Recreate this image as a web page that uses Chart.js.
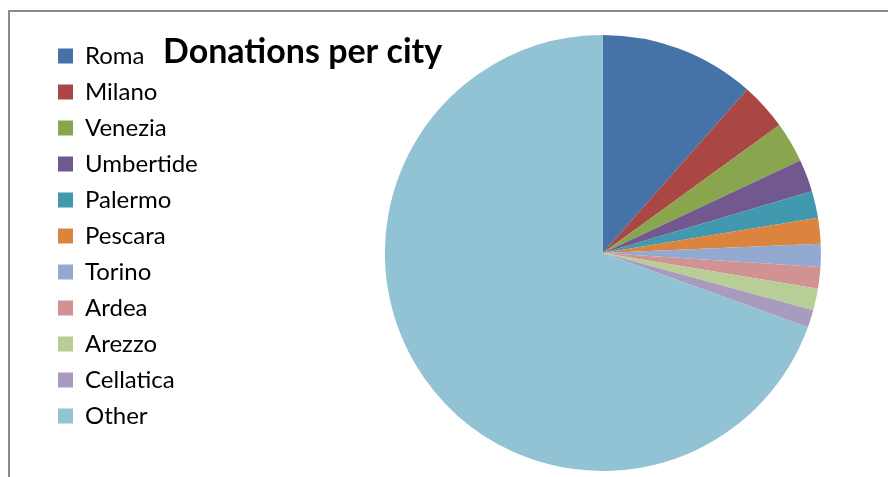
<!DOCTYPE html>
<html>
<head>
<meta charset="utf-8">
<script src="https://cdn.jsdelivr.net/npm/chart.js@4"></script>
<style>
  html, body { margin: 0; padding: 0; background: #fff; }
  #wrap { position: relative; width: 888px; height: 477px; }
  #frame { position: absolute; left: 8px; top: 10px; right: -5px; bottom: -5px;
           border-left: 2px solid #8a8a8a; border-top: 2px solid #8a8a8a; pointer-events: none; }
  canvas { position: absolute; left: 0; top: 0; }
</style>
</head>
<body>
<div id="wrap">
  <canvas id="pieChart" width="888" height="477"></canvas>
  <div id="frame"></div>
</div>
<script>
const cities = ['Roma', 'Milano', 'Venezia', 'Umbertide', 'Palermo', 'Pescara',
                'Torino', 'Ardea', 'Arezzo', 'Cellatica', 'Other'];
const donations = [115, 35, 30, 24, 20, 19, 17, 16, 16, 13, 694];
const sliceColors = ['#4572A7', '#AA4643', '#89A54E', '#71588F', '#4198AF', '#DB843D',
                     '#93A9CF', '#D19392', '#B9CD96', '#A99BBD', '#92C3D4'];
const chartTitle = 'Donations per city';

// title sits beside the legend, so draw it ourselves instead of using the title box
const titlePlugin = {
  id: 'sideTitle',
  afterDraw(chart) {
    const ctx = chart.ctx;
    ctx.save();
    ctx.font = 'bold 34px Lato';
    ctx.fillStyle = '#000';
    ctx.textBaseline = 'alphabetic';
    ctx.fillText(chartTitle, 163, 63);
    ctx.restore();
  }
};

// empty box between legend and pie, pushes the pie over to the right
const gapPlugin = {
  id: 'pieGap',
  beforeInit(chart) {
    Chart.layouts.addBox(chart, {
      position: 'left',
      weight: 0,
      fullSize: false,
      options: {},
      width: 0, height: 0, left: 0, top: 0, right: 0, bottom: 0,
      isHorizontal() { return false; },
      getPadding() { return { left: 0, top: 0, right: 0, bottom: 0 }; },
      update(maxWidth, maxHeight) { this.width = 177; this.height = maxHeight; },
      draw() {}
    });
  }
};

const ctx = document.getElementById('pieChart').getContext('2d');
new Chart(ctx, {
  type: 'pie',
  data: {
    labels: cities,
    datasets: [{
      data: donations,
      backgroundColor: sliceColors,
      borderWidth: 0,
      radius: 218
    }]
  },
  options: {
    responsive: false,
    animation: false,
    layout: { padding: { left: 46, top: 32, bottom: 3, right: 67 } },
    plugins: {
      title: { display: false },
      tooltip: { enabled: false },
      legend: {
        position: 'left',
        align: 'start',
        labels: {
          boxWidth: 15,
          boxHeight: 15,
          padding: 12,
          color: '#000',
          font: { family: 'Lato', size: 24 }
        }
      }
    }
  },
  plugins: [titlePlugin, gapPlugin]
});
</script>
</body>
</html>
